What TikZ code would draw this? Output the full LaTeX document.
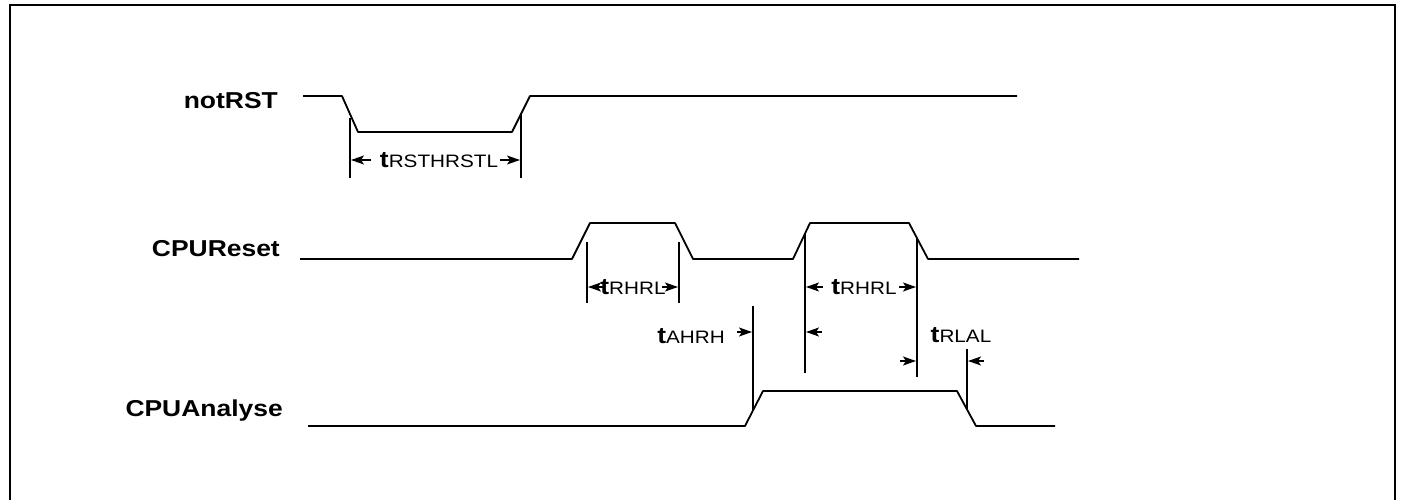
\documentclass[tikz,border=0pt]{standalone}
\usepackage{fontspec}
\newfontfamily\sigfont{Liberation Sans}
\usetikzlibrary{arrows.meta}

% the original lettering is set wide
\newcommand{\widetext}[1]{\scalebox{1.15}[1]{#1}}
% timing parameter: big t, smaller index
\newcommand{\tparam}[1]{\widetext{{\fontsize{23}{24}\selectfont\bfseries t}#1}}

\begin{document}
\begin{tikzpicture}[x=1pt, y=-1pt, >={Stealth[length=13pt,width=9pt,inset=3pt]},
	every node/.style={inner sep=0pt},
	signame/.style={anchor=east, font=\sigfont\bfseries\fontsize{23}{25}\selectfont},
	tlabel/.style={font=\sigfont\fontsize{18}{20}\selectfont},
	wave/.style={line width=1.8pt, line join=round},
	refline/.style={line width=1.5pt},
	dimarrow/.style={line width=1.6pt, ->}]
	\useasboundingbox (0,0) rectangle (1401,500);
	% frame, open at the bottom
	\draw[line width=1.8pt] (10,500) -- (10,5) -- (1395,5) -- (1395,500);

	% signal names
	\node[signame] (rst) at (278,101) {\widetext{notRST}};
	\node[signame] (reset) at (280,249) {\widetext{CPUReset}};
	\node[signame] (analyse) at (283,411) {\widetext{CPUAnalyse}};

	% waveforms
	\draw[wave] (303,96) -- (342,96) -- (358,132) -- (512,132) -- (530,96) -- (1017,96);
	\draw[wave] (300,259) -- (572,259) -- (590,223) -- (675,223) -- (693,259)
		-- (793,259) -- (810,223) -- (909,223) -- (928,259) -- (1079,259);
	\draw[wave] (308,426) -- (745,426) -- (763,391) -- (957,391) -- (976,426) -- (1055,426);

	% reference lines
	\coordinate (rstA) at (350,118);  \coordinate (rstB) at (521,113);
	\coordinate (hrlA) at (587,242);  \coordinate (hrlB) at (679,242);
	\coordinate (hrlC) at (805,234);  \coordinate (hrlD) at (917,238);
	\coordinate (ahrh) at (753,306);  \coordinate (rlal) at (967,349);
	\draw[refline] (rstA) -- ++(0,60);
	\draw[refline] (rstB) -- (521,178);
	\draw[refline] (hrlA) -- ++(0,61);
	\draw[refline] (hrlB) -- ++(0,61);
	\draw[refline] (hrlC) -- (805,373);
	\draw[refline] (hrlD) -- (917,377);
	\draw[refline] (ahrh) -- (753,410);
	\draw[refline] (rlal) -- (967,409);

	% tRSTHRSTL
	\node[tlabel] (trst) at (439,160) {\tparam{RSTHRSTL}};
	\draw[dimarrow] (371,160) -- (351,160);
	\draw[dimarrow] (500,160) -- (520,160);

	% tRHRL (first pulse)
	\node[tlabel] (trhrl1) at (633,287) {\tparam{RHRL}};
	\draw[dimarrow] (604,287) -- (588,287);
	\draw[dimarrow] (662,287) -- (678,287);

	% tRHRL (second pulse)
	\node[tlabel] (trhrl2) at (864,287) {\tparam{RHRL}};
	\draw[dimarrow] (823,287) -- (806,287);
	\draw[dimarrow] (899,287) -- (916,287);

	% tAHRH
	\node[tlabel] (tahrh) at (691,336) {\tparam{AHRH}};
	\draw[dimarrow] (737,332) -- (752,332);
	\draw[dimarrow] (822,332) -- (806,332);

	% tRLAL
	\node[tlabel] (trlal) at (961,335) {\tparam{RLAL}};
	\draw[dimarrow] (900,361) -- (916,361);
	\draw[dimarrow] (984,361) -- (968,361);
\end{tikzpicture}
\end{document}
